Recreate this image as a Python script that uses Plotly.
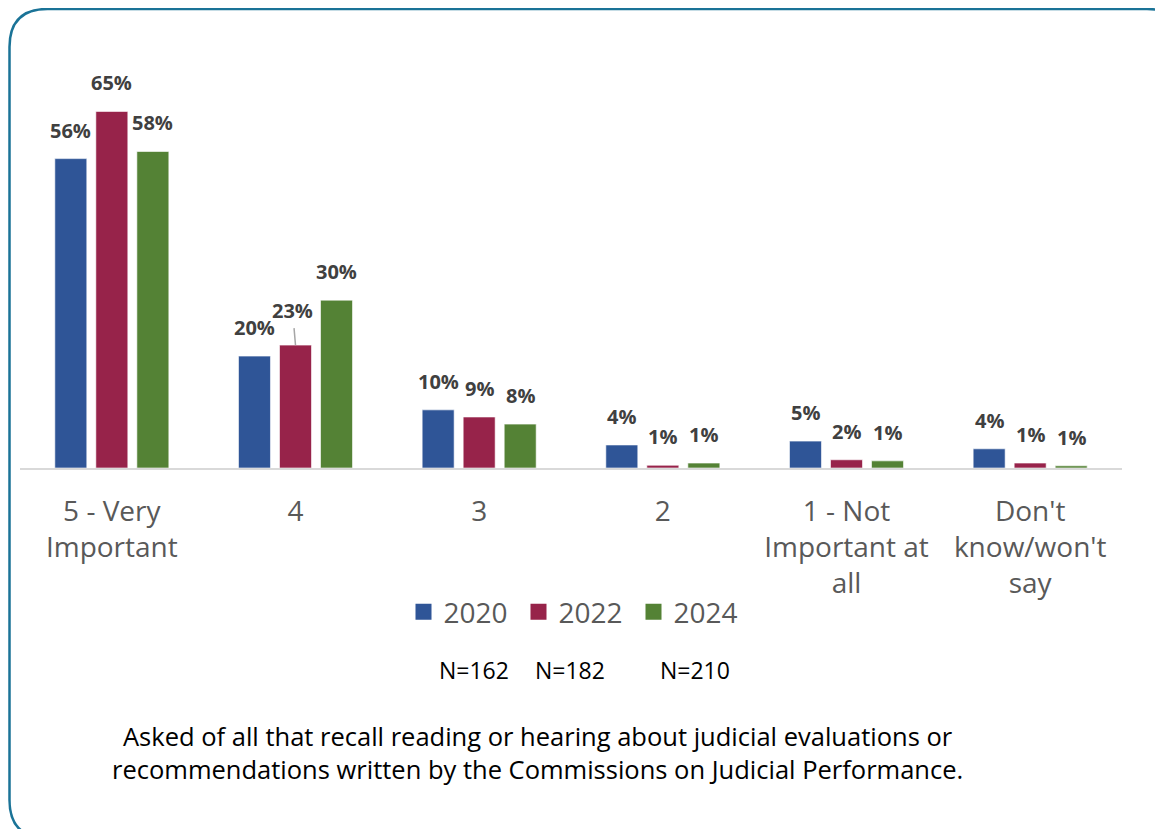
import plotly.graph_objects as go

# chart data
categories = ["5 - Very Important", "4", "3", "2", "1 - Not Important at all", "Don't know/won't say"]
tick_text = ["5 - Very<br>Important", "4", "3", "2", "1 - Not<br>Important at<br>all", "Don't<br>know/won't<br>say"]
years = ["2020", "2022", "2024"]
sample_sizes = ["N=162", "N=182", "N=210"]
values_2020 = [56.4, 20.4, 10.6, 4.2, 4.9, 3.5]
values_2022 = [65.0, 22.4, 9.3, 0.5, 1.5, 0.9]
values_2024 = [57.7, 30.6, 8.0, 0.9, 1.3, 0.4]
labels_2020 = ["56%", "20%", "10%", "4%", "5%", "4%"]
labels_2022 = ["65%", "23%", "9%", "1%", "2%", "1%"]
labels_2024 = ["58%", "30%", "8%", "1%", "1%", "1%"]
footnote = ("Asked of all that recall reading or hearing about judicial evaluations or<br>"
            "recommendations written by the Commissions on Judicial Performance.")

colors = ["#2F5597", "#97234A", "#548235"]
OFF = 8  # page body margin
W, H = 1155, 821
ML, MR, MT, MB = 12, 41, 76, 361
BARGAP, GROUPGAP = 0.33, 0.22
FONT = "Open Sans"


def px_x(x):
    return (x - OFF - ML) / (W - ML - MR)


def px_y(y):
    return (H - MB - (y - OFF)) / (H - MT - MB)


series = [values_2020, values_2022, values_2024]
labels = [labels_2020, labels_2022, labels_2024]
idx = list(range(len(categories)))

fig = go.Figure()
for name, vals, col in zip(years, series, colors):
    fig.add_trace(go.Bar(
        x=idx, y=vals, name=name, showlegend=False,
        marker=dict(color=col, line=dict(color="rgba(255,255,255,0.6)", width=1)),
        hoverinfo="skip",
    ))
    # legend-only square marker
    fig.add_trace(go.Scatter(
        x=[None], y=[None], mode="markers", name=name,
        marker=dict(symbol="square", size=17, color=col),
    ))

# data labels above each bar
cat_w = (W - ML - MR) / len(categories)
slot = cat_w * (1 - BARGAP) / len(years)
for k, (vals, labs) in enumerate(zip(series, labels)):
    for i, v, t in zip(idx, vals, labs):
        shift = (k - 1) * slot
        if k == 1 and i == 1:
            # label lifted off the bar with a leader line
            fig.add_annotation(x=i, y=v, xshift=shift, ax=-3, ay=-35,
                               text="<b>" + t + "</b>", showarrow=True, arrowhead=0,
                               arrowwidth=1.5, arrowcolor="#A6A6A6", standoff=0, startstandoff=3,
                               font=dict(family=FONT, size=20, color="#404040"))
            continue
        fig.add_annotation(x=i, y=v, xshift=shift, yshift=13, yanchor="bottom",
                           text="<b>" + t + "</b>", showarrow=False,
                           font=dict(family=FONT, size=20, color="#404040"))

# sample sizes under the legend
for t, xp in zip(sample_sizes, [474, 570, 695]):
    fig.add_annotation(x=px_x(xp), y=px_y(670), xref="paper", yref="paper", text=t,
                       xanchor="center", yanchor="middle", showarrow=False,
                       font=dict(family=FONT, size=23, color="#000000"))

fig.add_annotation(x=px_x(537), y=px_y(752), xref="paper", yref="paper", text=footnote,
                   xanchor="center", yanchor="middle", showarrow=False, align="center",
                   font=dict(family=FONT, size=25.5, color="#000000"))

# rounded frame
x0, y0, x1, y1, r = px_x(9.5), px_y(9), px_x(1185), px_y(838), 38
rx = r / (W - ML - MR)
ry = r / (H - MT - MB)
path = (f"M {x0 + rx} {y0} L {x1 - rx} {y0} Q {x1} {y0} {x1} {y0 - ry} "
        f"L {x1} {y1 + ry} Q {x1} {y1} {x1 - rx} {y1} L {x0 + rx} {y1} "
        f"Q {x0} {y1} {x0} {y1 + ry} L {x0} {y0 - ry} Q {x0} {y0} {x0 + rx} {y0} Z")
fig.add_shape(type="path", path=path, xref="paper", yref="paper",
              line=dict(color="#1A7397", width=2.5), layer="above")

fig.update_layout(
    width=W, height=H,
    margin=dict(l=ML, r=MR, t=MT, b=MB),
    paper_bgcolor="white", plot_bgcolor="white",
    barmode="group", bargap=BARGAP, bargroupgap=GROUPGAP,
    font=dict(family=FONT, color="#595959"),
    showlegend=True,
    legend=dict(orientation="h", x=px_x(576), xanchor="center", y=px_y(612), yanchor="middle",
                entrywidth=70, entrywidthmode="pixels", itemclick=False,
                font=dict(family=FONT, size=28, color="#595959")),
    xaxis=dict(tickmode="array", tickvals=idx, ticktext=tick_text, range=[-0.5, 5.5],
               tickfont=dict(family=FONT, size=28, color="#595959"),
               showline=True, linecolor="#D9D9D9", linewidth=2, ticks="",
               ticklabelstandoff=17, fixedrange=True),
    yaxis=dict(range=[0, 70], visible=False, showgrid=False, fixedrange=True),
)

fig.write_html("out.html")
